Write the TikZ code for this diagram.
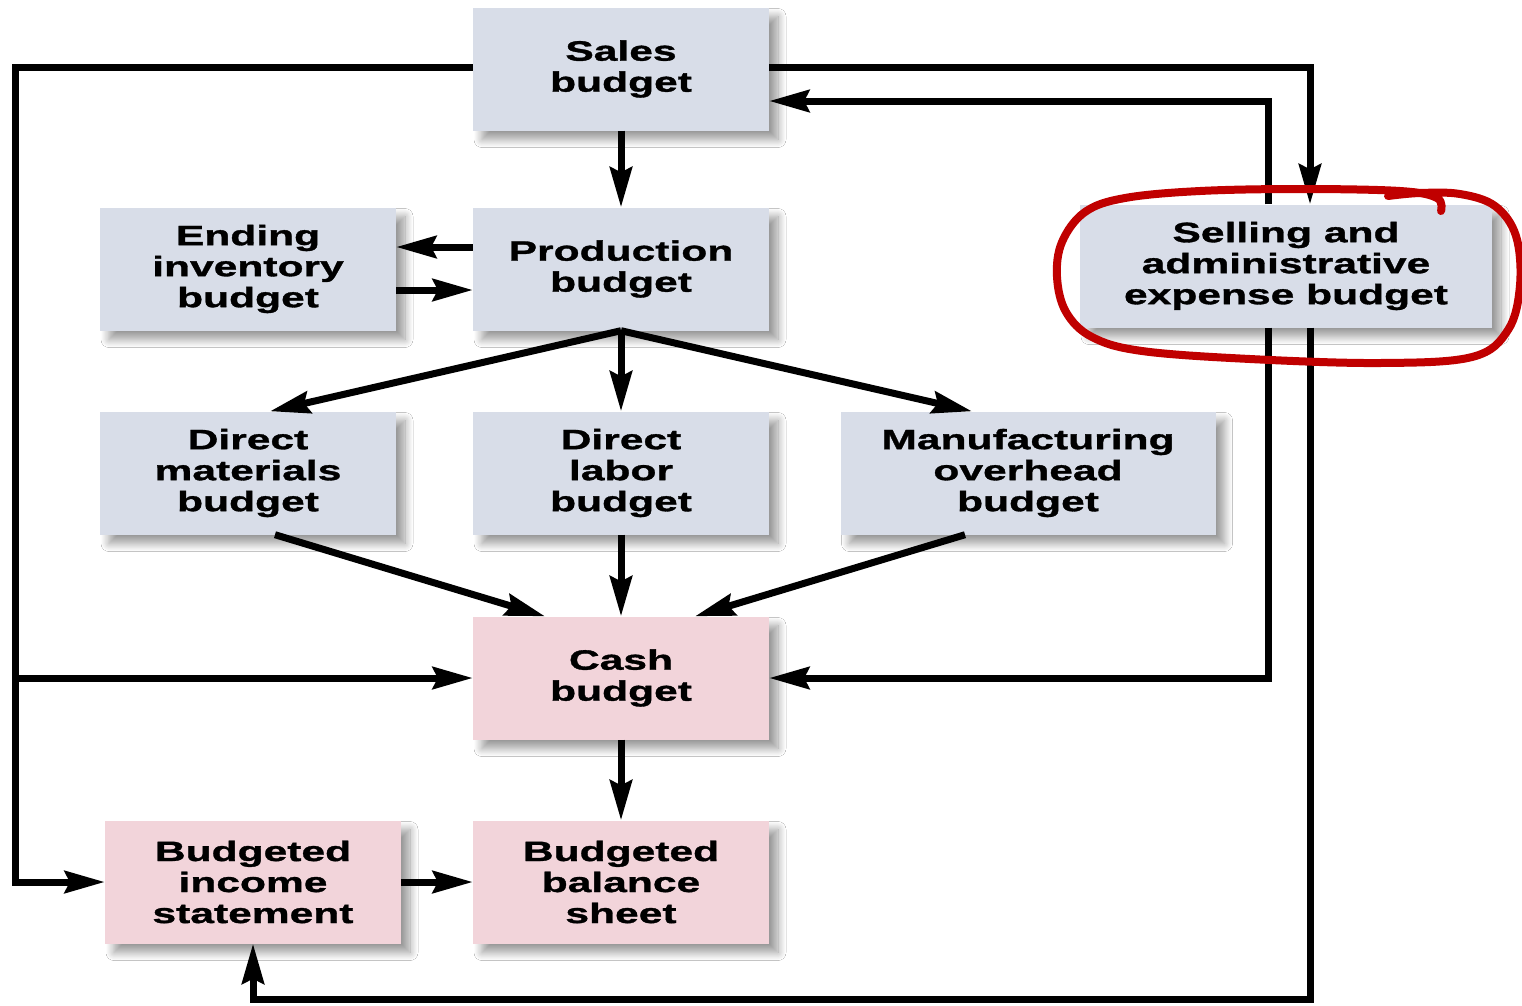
\documentclass[tikz,border=0pt]{standalone}
\usepackage{fontspec}
\newfontfamily\boxfont{Liberation Sans}[FakeStretch=1.52, FakeBold=1.2]
\usetikzlibrary{arrows.meta,shadows.blur}
\definecolor{boxblue}{HTML}{D8DDE8}
\definecolor{boxpink}{HTML}{F2D4DA}
\definecolor{loopred}{HTML}{C00000}
\tikzset{
  budget/.style={minimum width=296pt, minimum height=123pt, inner sep=0pt,
    align=center, font=\boxfont\bfseries\fontsize{28}{31}\selectfont,
    blur shadow={shadow xshift=9pt, shadow yshift=-9pt, shadow blur radius=8pt,
      shadow opacity=40, shadow blur steps=12}},
  plan/.style={budget, fill=boxblue},
  money/.style={budget, fill=boxpink},
  conn/.style={line width=7pt, -{Stealth[length=40pt, width=22pt, inset=5pt]}},
}
\begin{document}
\begin{tikzpicture}[x=1pt, y=-1pt]
\useasboundingbox (0,0) rectangle (1522,1005);
\fill[white] (0,0) rectangle (1522,1005);

% budget boxes
\node[plan]  (sales)  at (621,69)  {Sales\\budget};
\node[plan]  (prod)   at (621,269) {Production\\budget};
\node[plan]  (endinv) at (248,269) {Ending\\inventory\\budget};
\node[plan, minimum width=412pt] (sell) at (1286,266) {Selling and\\administrative\\expense budget};
\node[plan]  (dm)     at (248,473) {Direct\\materials\\budget};
\node[plan]  (dl)     at (621,473) {Direct\\labor\\budget};
\node[plan, minimum width=375pt] (mo) at (1028,473) {Manufacturing\\overhead\\budget};
\node[money] (cash)   at (621,678) {Cash\\budget};
\node[money] (inc)    at (253,882) {Budgeted\\income\\statement};
\node[money] (bal)    at (621,882) {Budgeted\\balance\\sheet};

% routing rails
\coordinate (L)  at (15,0);
\coordinate (R1) at (1268,0);
\coordinate (R2) at (1310,0);
\coordinate (S)  at (0,67);
\coordinate (T)  at (0,101);
\coordinate (B)  at (0,999);

% outer loops
\draw[conn] (sales.west |- S) -- (L |- S) -- (L |- inc.west) -- (inc.west);
\draw[conn] (L |- cash.west) -- (cash.west);
\draw[conn] (sales.east |- S) -- (R2 |- S) -- (R2 |- sell.north);
\draw[conn] (R1 |- sell.north) -- (R1 |- T) -- (sales.east |- T);
\draw[conn] (R1 |- sell.south) -- (R1 |- cash.east) -- (cash.east);
\draw[conn] (R2 |- sell.south) -- (R2 |- B) -- (inc.south |- B) -- (inc.south);

% main flow
\draw[conn] (sales.south) -- (prod.north);
\draw[conn] ([yshift=22pt]prod.west) -- ([yshift=22pt]endinv.east);
\draw[conn] ([yshift=-21pt]endinv.east) -- ([yshift=-21pt]prod.west);
\draw[conn] (prod.south) -- ([xshift=22pt]dm.north);
\draw[conn] (prod.south) -- (dl.north);
\draw[conn] (prod.south) -- ([xshift=-56pt]mo.north);
\draw[conn] ([xshift=27pt]dm.south) -- ([xshift=-76pt]cash.north);
\draw[conn] (dl.south) -- (cash.north);
\draw[conn] ([xshift=-63pt]mo.south) -- ([xshift=74pt]cash.north);
\draw[conn] (cash.south) -- (bal.north);
\draw[conn] (inc.east) -- (bal.west);

% hand-drawn highlight
\draw[loopred, line width=8pt, line cap=round, line join=round]
  plot[smooth, tension=0.6] coordinates {
    (1441,211) (1437,198) (1400,191) (1300,189) (1200,191) (1125,198)
    (1085,212) (1062,242) (1057,277) (1066,312) (1092,337) (1142,351)
    (1250,359) (1380,363) (1472,357) (1508,330) (1520,285) (1516,236)
    (1495,206) (1460,194) (1420,193) (1388,196)};
\end{tikzpicture}
\end{document}
